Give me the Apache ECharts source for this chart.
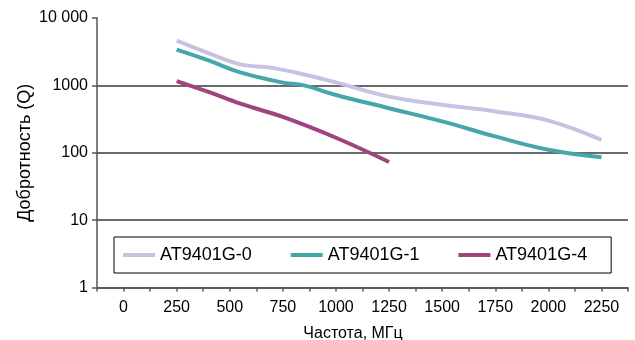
<!DOCTYPE html>
<html>
<head>
<meta charset="utf-8">
<script src="https://cdn.jsdelivr.net/npm/echarts@6/dist/echarts.min.js"></script>
<style>
  html, body { margin: 0; padding: 0; background: #fff; }
  #chart { width: 635px; height: 340px; }
</style>
</head>
<body>
<div id="chart"></div>
<script>
// ── Data ───────────────────────────────────────────────
const seriesNames = ['AT9401G-0', 'AT9401G-1', 'AT9401G-4'];

const freqG0 = [250, 400, 550, 700, 850, 1000, 1250, 1500, 1750, 2000, 2250];
const qG0    = [4600, 3000, 2050, 1820, 1450, 1110, 680, 515, 410, 300, 155];

const freqG1 = [250, 400, 550, 750, 850, 1000, 1250, 1500, 1750, 2000, 2250];
const qG1    = [3400, 2350, 1560, 1100, 1000, 720, 458, 292, 175, 111, 86];

const freqG4 = [250, 400, 550, 750, 1000, 1250];
const qG4    = [1160, 800, 535, 340, 167, 73];

const colors = ['#c8c2e2', '#45a7a9', '#a1437f'];

// ── Chart ──────────────────────────────────────────────
const FONT = "'Liberation Sans', Arial, sans-serif";
const chart = echarts.init(document.getElementById('chart'));

const pair = (xs, ys) => xs.map((x, i) => [x, ys[i]]);

chart.setOption({
  animation: false,
  backgroundColor: '#fff',
  textStyle: { fontFamily: FONT },
  grid: { left: 97, right: 7, top: 18, bottom: 52.5, outerBoundsMode: 'none', containLabel: false },
  legend: {
    left: 114, top: 237,
    padding: [9, 24, 9, 9],
    borderColor: '#000', borderWidth: 1,
    icon: 'rect', itemWidth: 32, itemHeight: 4, itemGap: 39,
    textStyle: { fontSize: 18, color: '#000', fontFamily: FONT },
    data: seriesNames,
  },
  xAxis: {
    type: 'value',
    min: -125, max: 2375, interval: 125,
    name: 'Частота, МГц',
    nameLocation: 'middle',
    nameGap: 38,
    nameMoveOverlap: false,
    nameTextStyle: { fontSize: 16, color: '#000', fontFamily: FONT, padding: [0, 19, 0, 0] },
    axisLine: { onZero: false, lineStyle: { color: '#555', width: 1.5 } },
    axisTick: { length: 4, lineStyle: { color: '#555', width: 1.5 } },
    axisLabel: {
      fontSize: 16, color: '#000', margin: 12,
      formatter: v => (v >= 0 && v % 250 === 0 ? String(v) : ''),
    },
    splitLine: { show: false },
  },
  yAxis: {
    type: 'log', logBase: 10, min: 1, max: 10000,
    name: 'Добротность (Q)',
    nameLocation: 'middle',
    nameGap: 63,
    nameMoveOverlap: false,
    nameTextStyle: { fontSize: 18, color: '#000', fontFamily: FONT },
    axisLine: { show: true, onZero: false, lineStyle: { color: '#555', width: 1.5 } },
    axisTick: { show: true, length: 5, lineStyle: { color: '#555', width: 1.5 } },
    axisLabel: {
      fontSize: 16, color: '#000', margin: 9,
      formatter: v => (v === 10000 ? '10 000' : String(v)),
    },
    splitLine: { show: true, showMaxLine: false, lineStyle: { color: '#3a3a3a', width: 1.5 } },
  },
  series: [
    { name: seriesNames[0], data: pair(freqG0, qG0) },
    { name: seriesNames[1], data: pair(freqG1, qG1) },
    { name: seriesNames[2], data: pair(freqG4, qG4) },
  ].map((s, i) => ({
    ...s,
    type: 'line',
    smooth: 0.4,
    showSymbol: false,
    color: colors[i],
    lineStyle: { width: 4, color: colors[i] },
  })),
});
</script>
</body>
</html>
